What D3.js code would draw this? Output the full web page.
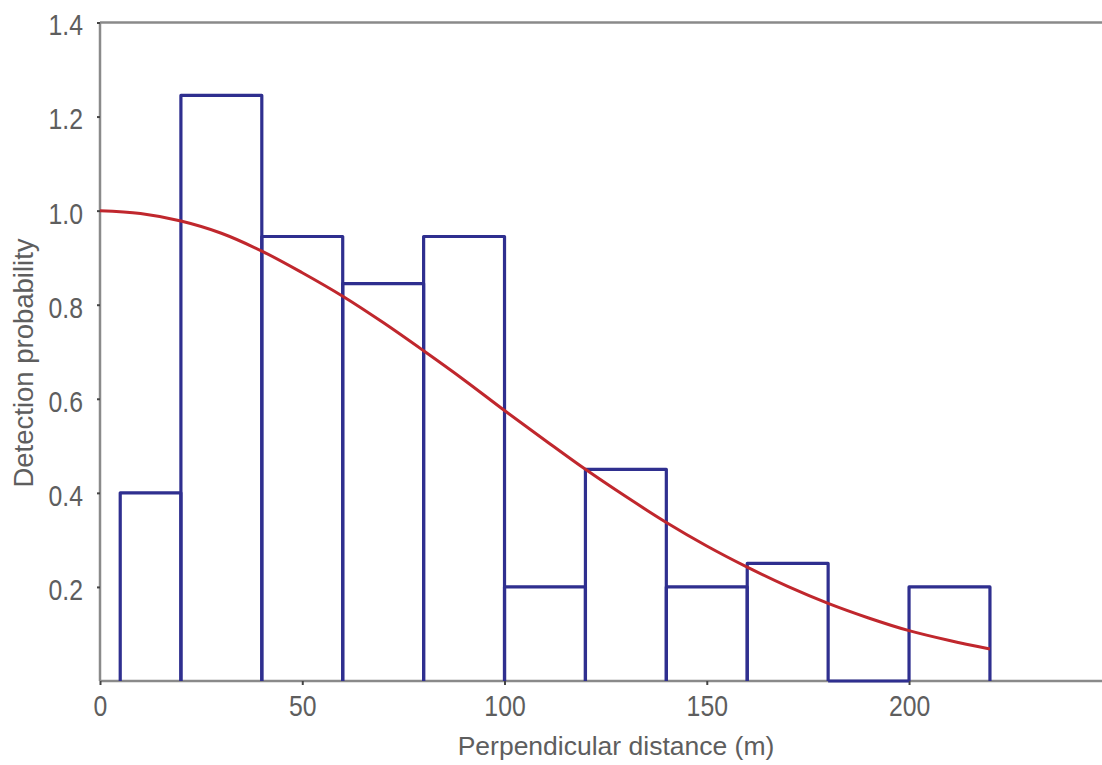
<!DOCTYPE html>
<html><head><meta charset="utf-8">
<script src="https://cdn.jsdelivr.net/npm/d3@7"></script>
<style>
body{margin:0;background:#fff;}
text{font-family:"Liberation Sans",Arial,sans-serif;fill:#5e5e5e;}
</style></head><body>
<svg id="c" width="1102" height="765"></svg>
<script>
// Histogram bins (m) and heights
const binStart = [5, 20, 40, 60, 80, 100, 120, 140, 160, 180, 200];
const binEnd   = [20, 40, 60, 80, 100, 120, 140, 160, 180, 200, 220];
const binValue = [0.40, 1.245, 0.945, 0.845, 0.945, 0.20, 0.45, 0.20, 0.25, 0.0, 0.20];
// Fitted detection function
const curveX = [0,10,20,30,40,50,60,70,80,90,100,110,120,130,140,150,160,170,180,190,200,210,220];
const curveY = [1.0,0.994,0.978,0.952,0.914,0.868,0.818,0.762,0.702,0.64,0.575,0.512,0.45,0.392,0.337,0.287,0.242,0.201,0.165,0.134,0.107,0.086,0.068];
const xTicks = [0, 50, 100, 150, 200];
const yTicks = [0.2, 0.4, 0.6, 0.8, 1.0, 1.2, 1.4];

const svg = d3.select("#c");
const x = d3.scaleLinear().domain([0, 247.7]).range([100, 1102]);
const y = d3.scaleLinear().domain([0, 1.4]).range([681, 22.5]);
const axisCol = "#8a8a8a";
const sx = 0.84; // condensed tick labels

// top frame line
svg.append("line").attr("x1", x(0)).attr("x2", 1102).attr("y1", y(1.4)).attr("y2", y(1.4))
  .attr("stroke", axisCol).attr("stroke-width", 2.5);

// x axis
const gx = svg.append("g").attr("transform", `translate(0,${y(0)})`)
  .call(d3.axisBottom(x).tickValues(xTicks).tickSize(4).tickPadding(10).tickFormat(d3.format("d")));
gx.select(".domain").attr("stroke", axisCol).attr("stroke-width", 2.5).attr("d", `M${x(0)},0H1102`);
gx.selectAll(".tick line").attr("stroke", "#444").attr("stroke-width", 2);
gx.selectAll(".tick text").attr("font-size", 29.5).attr("transform", `scale(${sx},1)`);

// y axis
const gy = svg.append("g").attr("transform", `translate(${x(0)},0)`)
  .call(d3.axisLeft(y).tickValues(yTicks).tickSize(3).tickPadding(14).tickFormat(d3.format(".1f")));
gy.select(".domain").attr("stroke", axisCol).attr("stroke-width", 2.5).attr("d", `M0,${y(0)}V${y(1.4)}`);
gy.selectAll(".tick line").attr("stroke", "#444").attr("stroke-width", 2);
gy.selectAll(".tick text").attr("font-size", 29.5).attr("dy", "0.42em")
  .attr("x", -17 / sx).attr("transform", `scale(${sx},1)`);
svg.selectAll(".tick text").attr("font-family", null).attr("fill", "#5e5e5e");

// bars (open outlines; zero-height bin shows as a line on the axis)
const bars = binStart.map((s, i) => ({s, e: binEnd[i], v: binValue[i]}));
svg.append("g").selectAll("path").data(bars).join("path")
  .attr("d", d => `M${x(d.s)},${y(0)}V${y(d.v)}H${x(d.e)}V${y(0)}`)
  .attr("fill", "none").attr("stroke", "#2f2f8f").attr("stroke-width", 3.2)
  .attr("stroke-linejoin", "round");

// curve
const line = d3.line().x((d, i) => x(curveX[i])).y(d => y(d)).curve(d3.curveCatmullRom);
svg.append("path").datum(curveY).attr("d", line)
  .attr("fill", "none").attr("stroke", "#c0272d").attr("stroke-width", 3);

// axis titles
svg.append("text").attr("x", 616).attr("y", 755).attr("text-anchor", "middle")
  .attr("font-size", 26.5).text("Perpendicular distance (m)");
svg.append("text").attr("transform", "translate(33,363) rotate(-90)").attr("text-anchor", "middle")
  .attr("font-size", 27.5).text("Detection probability");
</script></body></html>
